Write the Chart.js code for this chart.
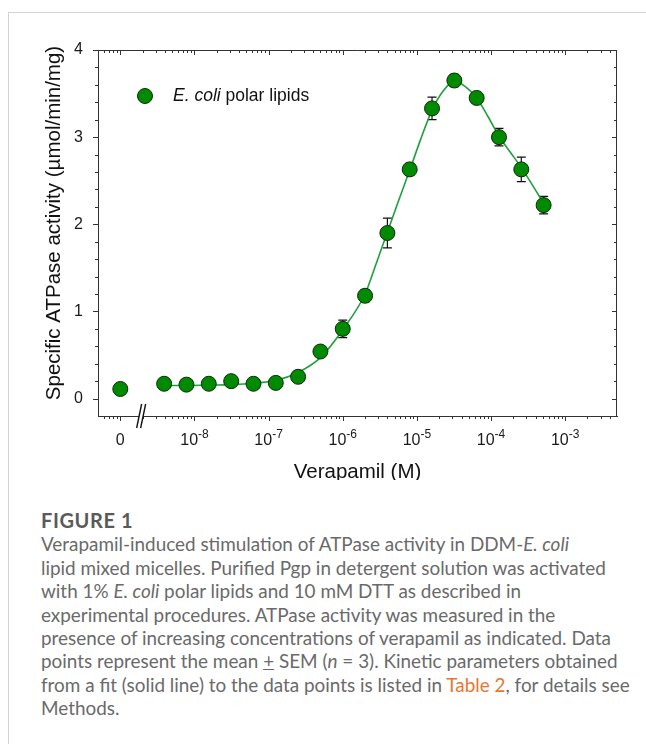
<!DOCTYPE html>
<html>
<head>
<meta charset="utf-8">
<script src="https://cdn.jsdelivr.net/npm/chart.js@4/dist/chart.umd.min.js"></script>
<style>
  body { margin: 0; background: #fff; }
  #page { position: relative; width: 646px; height: 744px; overflow: hidden; }
  #frame { position: absolute; left: 8px; top: 12px; right: -2px; bottom: -2px; border-top: 1px solid #d4d4d4; border-left: 1px solid #d4d4d4; }
  #chart { position: absolute; left: 0; top: 0; }
  #caption { position: absolute; left: 41px; top: 509px; font-family: Lato, 'Open Sans', sans-serif; font-size: 18.9px; line-height: 23.4px; color: #6a6a6a; white-space: nowrap; }
  #caption .fig { font-weight: 700; color: #5a5a5a; font-size: 20px; letter-spacing: 0.6px; }
  #caption .link { color: #e8772e; }
</style>
</head>
<body>
<div id="page">
  <div id="frame"></div>
  <canvas id="chart" width="646" height="480"></canvas>
  <div id="caption">
    <div class="fig">FIGURE 1</div>
    <div>Verapamil-induced stimulation of ATPase activity in DDM-<i>E. coli</i></div>
    <div>lipid mixed micelles. Purified Pgp in detergent solution was activated</div>
    <div>with 1% <i>E. coli</i> polar lipids and 10 mM DTT as described in</div>
    <div>experimental procedures. ATPase activity was measured in the</div>
    <div>presence of increasing concentrations of verapamil as indicated. Data</div>
    <div>points represent the mean <u>+</u> SEM (<i>n</i> = 3). Kinetic parameters obtained</div>
    <div>from a fit (solid line) to the data points is listed in <span class="link">Table 2</span>, for details see</div>
    <div>Methods.</div>
  </div>
</div>
<script>
// verapamil concentrations (M), doubling series
const concentrations = [3.9e-9, 7.8e-9, 1.56e-8, 3.13e-8, 6.25e-8, 1.25e-7, 2.5e-7, 5e-7, 1e-6,
  2e-6, 4e-6, 8e-6, 1.6e-5, 3.2e-5, 6.4e-5, 1.28e-4, 2.56e-4, 5.12e-4];
const activity = [0.17, 0.16, 0.17, 0.20, 0.17, 0.18, 0.25, 0.54, 0.80,
  1.18, 1.90, 2.63, 3.33, 3.65, 3.45, 3.00, 2.63, 2.22];
const sem = [0.02, 0.02, 0.02, 0.02, 0.02, 0.02, 0.02, 0.03, 0.10,
  0.07, 0.17, 0.07, 0.13, 0.07, 0.04, 0.10, 0.14, 0.10];

// no-drug control, drawn at the "0" position left of the axis break
const zeroPosition = 1e-9;
const zeroActivity = 0.11;

// fitted curve
const fitConc = [3.9e-9, 7.8e-9, 1.56e-8, 3.13e-8, 6.25e-8, 1.25e-7, 2.5e-7, 5e-7, 1e-6,
  2e-6, 2.83e-6, 4e-6, 5.66e-6, 8e-6, 1.13e-5, 1.6e-5, 2.26e-5, 3.2e-5, 4.5e-5,
  6.4e-5, 9.05e-5, 1.28e-4, 1.81e-4, 2.56e-4, 3.62e-4, 5.12e-4];
const fitActivity = [0.15, 0.15, 0.155, 0.16, 0.175, 0.21, 0.30, 0.47, 0.79,
  1.20, 1.55, 1.91, 2.27, 2.62, 2.98, 3.31, 3.53, 3.64, 3.58,
  3.45, 3.24, 3.01, 2.83, 2.65, 2.45, 2.24];

const xTickValues = [1e-9, 1e-8, 1e-7, 1e-6, 1e-5, 1e-4, 1e-3];
const xTickLabels = ['0', '-8', '-7', '-6', '-5', '-4', '-3'];
const yTickValues = [0, 1, 2, 3, 4];

const FONT = "Arial, 'Liberation Sans', sans-serif";
const GREEN = '#008a00';
const AXIS = '#333';

const frameDecor = {
  id: 'frameDecor',
  beforeDatasetsDraw(chart) {
    // error bars sit behind the markers
    const { ctx, scales: { x, y } } = chart;
    ctx.save();
    ctx.strokeStyle = '#111';
    ctx.lineWidth = 1.2;
    concentrations.forEach((c, i) => {
      const px = x.getPixelForValue(c);
      const top = y.getPixelForValue(activity[i] + sem[i]);
      const bot = y.getPixelForValue(activity[i] - sem[i]);
      ctx.beginPath();
      ctx.moveTo(px, top); ctx.lineTo(px, bot);
      ctx.moveTo(px - 4.5, top); ctx.lineTo(px + 4.5, top);
      ctx.moveTo(px - 4.5, bot); ctx.lineTo(px + 4.5, bot);
      ctx.stroke();
    });
    ctx.restore();
  },
  afterDraw(chart) {
    const { ctx, chartArea: a, scales: { x, y } } = chart;
    ctx.save();
    ctx.strokeStyle = AXIS;
    ctx.lineWidth = 1;
    ctx.beginPath();
    // top and right frame lines
    ctx.moveTo(a.left, a.top + 0.5); ctx.lineTo(a.right, a.top + 0.5);
    ctx.moveTo(a.right - 0.5, a.top); ctx.lineTo(a.right - 0.5, a.bottom);
    // y ticks every 0.2, major every 1
    for (let i = 0; i <= 20; i++) {
      const py = Math.round(y.getPixelForValue(i / 5)) + 0.5;
      const len = i % 5 === 0 ? 5 : 3;
      ctx.moveTo(a.left, py); ctx.lineTo(a.left - len, py);
      ctx.moveTo(a.right, py); ctx.lineTo(a.right - len, py);
    }
    // log x ticks, 1..9 per decade
    for (let d = -10; d <= -3; d++) {
      for (let m = 1; m <= 9; m++) {
        const v = m * Math.pow(10, d);
        if (v <= x.min * 1.0001 || v >= x.max * 0.9999) continue;
        const px = Math.round(x.getPixelForValue(v)) + 0.5;
        const len = m === 1 ? 5 : 3;
        ctx.moveTo(px, a.top); ctx.lineTo(px, a.top + len);
        ctx.moveTo(px, a.bottom); ctx.lineTo(px, a.bottom + len);
      }
    }
    ctx.stroke();

    // axis break marks
    const bx = x.getPixelForValue(2e-9) - 2;
    const by = a.bottom;
    ctx.fillStyle = '#fff';
    ctx.beginPath();
    ctx.moveTo(bx - 4, by + 12); ctx.lineTo(bx + 1, by - 12);
    ctx.lineTo(bx + 5, by - 12); ctx.lineTo(bx, by + 12);
    ctx.closePath();
    ctx.fill();
    ctx.strokeStyle = '#111';
    ctx.lineWidth = 1.4;
    ctx.beginPath();
    ctx.moveTo(bx - 4, by + 12); ctx.lineTo(bx + 1, by - 12);
    ctx.moveTo(bx, by + 12); ctx.lineTo(bx + 5, by - 12);
    ctx.stroke();

    // x tick labels with superscript exponents
    ctx.fillStyle = '#1a1a1a';
    ctx.textBaseline = 'middle';
    xTickValues.forEach((v, i) => {
      const px = x.getPixelForValue(v);
      const ly = a.bottom + 25;
      if (i === 0) {
        ctx.font = '16px ' + FONT;
        ctx.textAlign = 'center';
        ctx.fillText(xTickLabels[i], px, ly);
        return;
      }
      ctx.font = '16px ' + FONT;
      const wBase = ctx.measureText('10').width;
      ctx.font = '12px ' + FONT;
      const wExp = ctx.measureText(xTickLabels[i]).width;
      const start = px - (wBase + wExp) / 2;
      ctx.textAlign = 'left';
      ctx.font = '16px ' + FONT;
      ctx.fillText('10', start, ly);
      ctx.font = '12px ' + FONT;
      ctx.fillText(xTickLabels[i], start + wBase, ly - 6);
    });

    // axis titles
    ctx.font = '20.5px ' + FONT;
    ctx.textAlign = 'center';
    ctx.fillStyle = '#111';
    ctx.fillText('Verapamil (M)', (a.left + a.right) / 2, 472);
    ctx.save();
    ctx.translate(54, (a.top + a.bottom) / 2 - 10);
    ctx.rotate(-Math.PI / 2);
    ctx.fillText('Specific ATPase activity (\u00b5mol/min/mg)', 0, 0);
    ctx.restore();

    // legend
    ctx.beginPath();
    ctx.arc(145, 96, 7.5, 0, Math.PI * 2);
    ctx.fillStyle = GREEN;
    ctx.fill();
    ctx.strokeStyle = '#0b2a0b';
    ctx.lineWidth = 1;
    ctx.stroke();
    ctx.fillStyle = '#111';
    ctx.textAlign = 'left';
    ctx.font = 'italic 17.5px ' + FONT;
    ctx.fillText('E. coli', 173, 96);
    const wItal = ctx.measureText('E. coli').width;
    ctx.font = '17.5px ' + FONT;
    ctx.fillText(' polar lipids', 173 + wItal, 96);
    ctx.restore();
  }
};

const pointStyle = {
  backgroundColor: GREEN,
  borderColor: '#0b2a0b',
  borderWidth: 1,
  pointRadius: 7.5,
  pointHoverRadius: 7.5,
  showLine: false,
};

new Chart(document.getElementById('chart'), {
  type: 'scatter',
  data: {
    datasets: [
      { label: 'E. coli polar lipids', data: concentrations.map((c, i) => ({ x: c, y: activity[i] })), order: 1, ...pointStyle },
      { label: 'control', data: [{ x: zeroPosition, y: zeroActivity }], order: 1, ...pointStyle },
      {
        label: 'fit',
        data: fitConc.map((c, i) => ({ x: c, y: fitActivity[i] })),
        showLine: true,
        borderColor: '#1ea03c',
        borderWidth: 1.6,
        pointRadius: 0,
        cubicInterpolationMode: 'monotone',
        order: 2,
      },
    ],
  },
  options: {
    responsive: false,
    animation: false,
    devicePixelRatio: 1,
    layout: { padding: { top: 50, right: 29, left: 0, bottom: 0 } },
    plugins: { legend: { display: false }, tooltip: { enabled: false } },
    scales: {
      x: {
        type: 'logarithmic',
        min: 5e-10,
        max: 5e-3,
        ticks: { display: false },
        grid: { display: false, drawTicks: false },
        border: { display: true, color: AXIS, width: 1 },
        afterFit: s => { s.height = 480 - 416; },
      },
      y: {
        min: -0.2,
        max: 4,
        afterBuildTicks: s => { s.ticks = yTickValues.map(v => ({ value: v })); },
        ticks: { font: { family: FONT, size: 16 }, color: '#1a1a1a', padding: 15 },
        grid: { display: false, drawTicks: false },
        border: { display: true, color: AXIS, width: 1 },
        afterFit: s => { s.width = 98; },
      },
    },
  },
  plugins: [frameDecor],
});
</script>
</body>
</html>
